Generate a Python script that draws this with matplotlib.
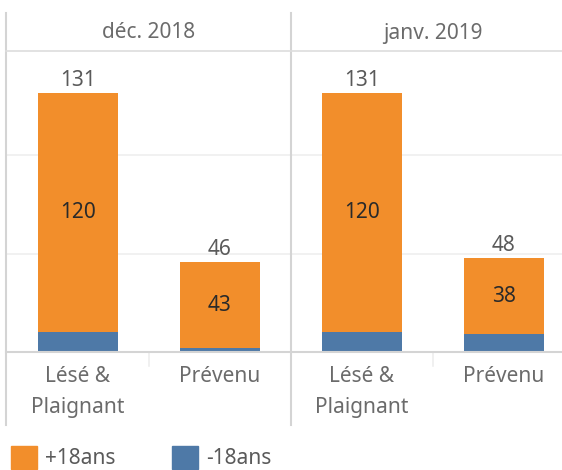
import matplotlib
matplotlib.use("Agg")
import matplotlib.pyplot as plt
from matplotlib.patches import Rectangle
from matplotlib.lines import Line2D
from matplotlib.transforms import blended_transform_factory

plt.rcParams['font.family'] = ['Noto Sans', 'DejaVu Sans']

# Données
months = ["déc. 2018", "janv. 2019"]
categories = ["Lésé &\nPlaignant", "Prévenu"]
adults = [[120, 43], [120, 38]]      # +18ans
minors = [[11, 3], [11, 10]]         # -18ans
legend_labels = ["+18ans", "-18ans"]

ORANGE = "#F28E2B"
BLUE = "#4E79A7"
W, H = 562, 470
FS = 15


def fx(x):
    return x / W


def fy(y):
    return 1 - y / H


fig = plt.figure(figsize=(W / 100, H / 100), dpi=100)

panel_w = 284
top, base = 51, 352
scale = 1.99   # px par unité
for p, month in enumerate(months):
    left = 7 + p * panel_w
    ax = fig.add_axes([fx(left), fy(base), panel_w / W, (base - top) / H])
    x = range(len(categories))
    ax.bar(x, minors[p], width=0.57, color=BLUE, zorder=3)
    ax.bar(x, adults[p], bottom=minors[p], width=0.57, color=ORANGE, zorder=3)
    ax.set_xlim(-0.5, 1.5)
    ax.set_ylim(1, 1 + (base - top) / scale)
    for gy in (50, 100):
        ax.axhline(gy, color="#efefef", lw=1.2, zorder=1)
    for i in x:
        total = adults[p][i] + minors[p][i]
        ax.annotate(str(total), (i, total), xytext=(0, 2), textcoords="offset points",
                    ha="center", va="bottom", fontsize=FS, color="#5a5a5a")
        ax.text(i, minors[p][i] + adults[p][i] / 2, str(adults[p][i]),
                ha="center", va="center", fontsize=FS, color="#2a2a2a", zorder=4)
    ax.set_xticks([])
    ax.set_yticks([])
    for s in ax.spines.values():
        s.set_visible(False)

    # étiquettes de catégories
    tr = blended_transform_factory(ax.transData, fig.transFigure)
    for i, cat in enumerate(categories):
        for j, line in enumerate(cat.split("\n")):
            ax.text(i, fy(376 + j * 31), line, transform=tr, ha="center", va="center",
                    fontsize=FS, color="#6b6b6b", clip_on=False)
    # séparateur de catégories
    fig.add_artist(Line2D([fx(left + panel_w / 2)] * 2, [fy(352), fy(366)],
                          color="#eeeeee", lw=1.2))
    # en-tête du mois
    fig.text(fx(left + panel_w / 2), fy(33), month, ha="center", va="center",
             fontsize=FS, color="#6b6b6b")

# lignes de la grille du tableau
line_c = "#d4d4d4"
for vx in (6, 291):
    fig.add_artist(Line2D([fx(vx)] * 2, [fy(13), fy(425)], color=line_c, lw=1.5))
fig.add_artist(Line2D([fx(6), 1], [fy(51)] * 2, color="#dddddd", lw=1.2))
fig.add_artist(Line2D([fx(6), 1], [fy(352)] * 2, color=line_c, lw=1.5))

# légende
for k, (lab, col) in enumerate(zip(legend_labels, [ORANGE, BLUE])):
    x0 = 11 + k * 161
    fig.add_artist(Rectangle((fx(x0), fy(469)), 26 / W, 23 / H, color=col,
                             transform=fig.transFigure))
    fig.text(fx(x0 + 34), fy(459), lab, ha="left", va="center", fontsize=FS,
             color="#5a5a5a")

fig.savefig("out.png", dpi=100)
